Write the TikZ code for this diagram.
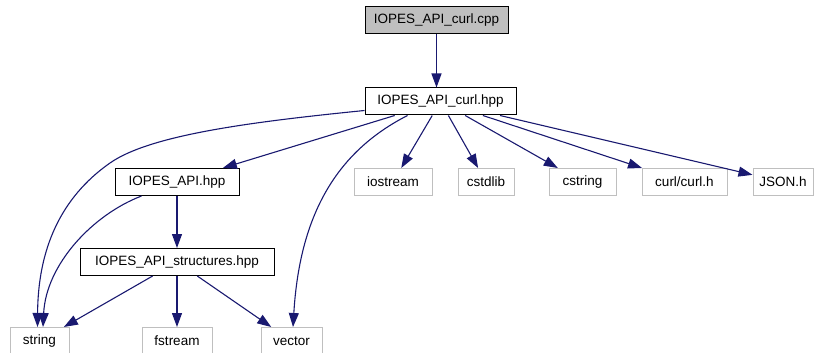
\documentclass[tikz,border=0pt]{standalone}
\usepackage{fontspec}
\setmainfont{Liberation Sans}
\usetikzlibrary{arrows.meta,calc}
\definecolor{edgeblue}{HTML}{191970}
\definecolor{extgray}{HTML}{BFBFBF}
\begin{document}
\begin{tikzpicture}[x=1pt,y=-1pt,
  box/.style={draw=black,line width=1pt,fill=white,minimum height=27pt,inner sep=0pt,
    font=\fontsize{13.5pt}{15pt}\selectfont,text=black},
  mainbox/.style={box,fill=extgray},
  extbox/.style={box,draw=extgray},
  dep/.style={draw=edgeblue,line width=1.1pt,-{Triangle[length=14pt,width=10pt]}}]
\useasboundingbox (0,0) rectangle (815,353);

% files of the project
\node[mainbox,minimum width=143pt] (cpp) at (436.5,20.5) {IOPES\_API\_curl.cpp};
\node[box,minimum width=151pt] (hpp) at (440.5,101.5) {IOPES\_API\_curl.hpp};
\node[box,minimum width=124pt] (api) at (177,182) {IOPES\_API.hpp};
\node[box,minimum width=194pt] (struct) at (177,262) {IOPES\_API\_structures.hpp};

% system and library headers
\node[extbox,minimum width=78pt] (iostream) at (393,182) {iostream};
\node[extbox,minimum width=56pt] (cstdlib) at (486,182) {cstdlib};
\node[extbox,minimum width=67pt] (cstring) at (582.5,182) {cstring};
\node[extbox,minimum width=85pt] (curlh) at (684.5,182) {curl/curl.h};
\node[extbox,minimum width=60pt] (json) at (783,182) {JSON.h};
\node[extbox,minimum width=59pt] (string) at (39.5,341) {string};
\node[extbox,minimum width=70pt] (fstream) at (177,341) {fstream};
\node[extbox,minimum width=61pt] (vector) at (291.5,341) {vector};

% include edges
\draw[dep] (cpp.south) -- (cpp.south |- hpp.north);
\draw[dep] (hpp) -- (api);
\draw[dep] (hpp) -- (iostream);
\draw[dep] (hpp) -- (cstdlib);
\draw[dep] (hpp) -- (cstring);
\draw[dep] (hpp) -- (curlh);
\draw[dep] (hpp) -- (json);
\draw[dep] ($(hpp.south west)+(0,-5)$) .. controls (250,122) and (150,135) .. (110,163)
  .. controls (60,198) and (38,250) .. ($(string.north)+(-2,0)$);
\draw[dep] ($(hpp.south west)+(43,0)$) .. controls (340,150) and (300,210) .. ($(vector.north)+(1.5,0)$);
\draw[dep] ($(api.south west)+(27,0)$) .. controls (92,215) and (46,265) .. ($(string.north)+(3.5,0)$);
\draw[dep] (api) -- (struct);
\draw[dep] (struct) -- (string);
\draw[dep] (struct) -- (fstream);
\draw[dep] (struct) -- (vector);
\end{tikzpicture}
\end{document}
